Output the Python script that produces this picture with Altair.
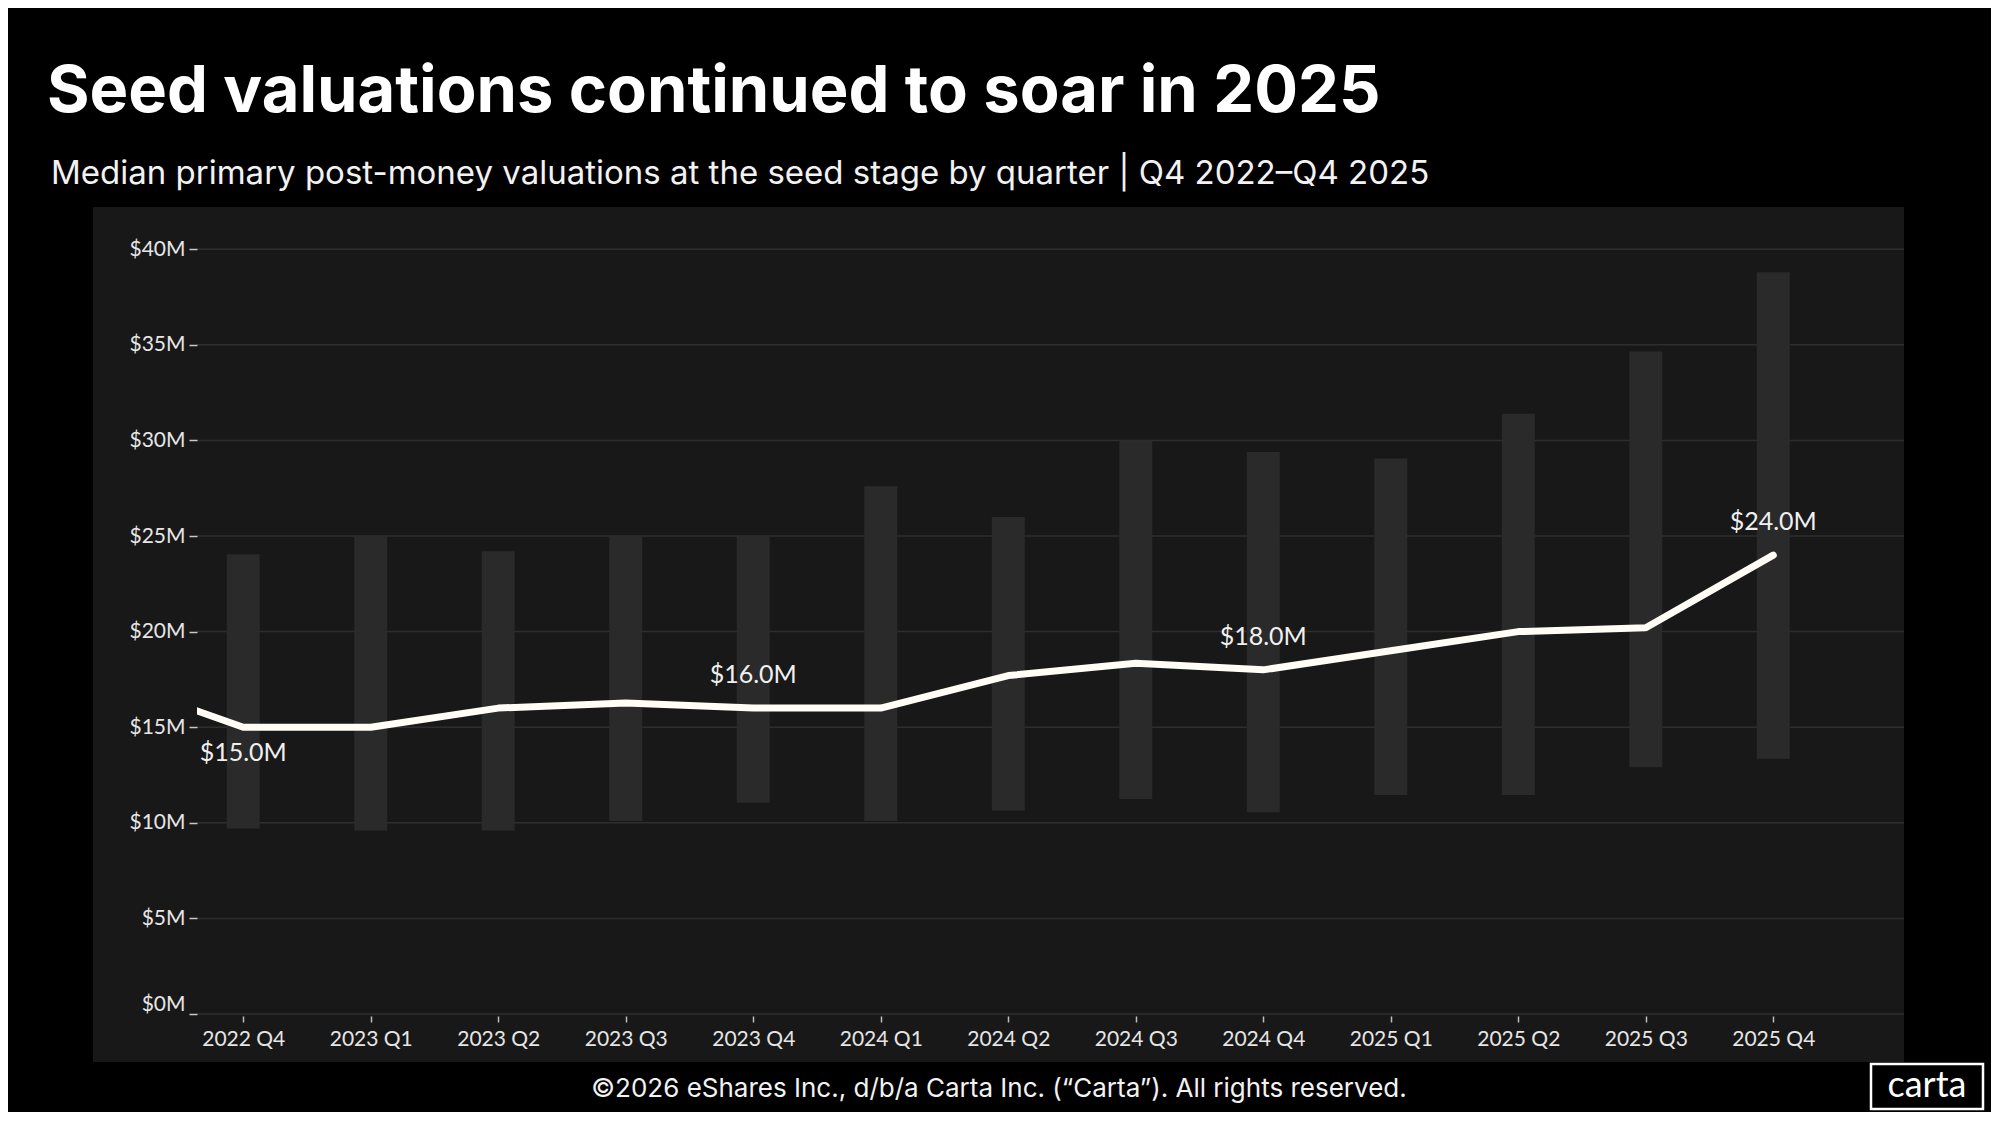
import altair as alt
import pandas as pd

# ---------------- data ----------------
quarters = ["2022 Q4", "2023 Q1", "2023 Q2", "2023 Q3", "2023 Q4", "2024 Q1", "2024 Q2",
            "2024 Q3", "2024 Q4", "2025 Q1", "2025 Q2", "2025 Q3", "2025 Q4"]
median = [15.0, 15.0, 16.0, 16.27, 16.0, 16.0, 17.7, 18.35, 18.0, 19.0, 20.0, 20.2, 24.0]
low = [9.7, 9.6, 9.6, 10.1, 11.05, 10.1, 10.65, 11.25, 10.55, 11.45, 11.45, 12.9, 13.35]
high = [24.05, 25.0, 24.2, 25.0, 25.0, 27.6, 26.0, 30.0, 29.4, 29.05, 31.4, 34.65, 38.8]

# the line enters the plot from the quarter before the first one shown
prev_quarter = "2022 Q3"
prev_median = 17.35

labeled_above = ["2023 Q4", "2024 Q4", "2025 Q4"]
labeled_below = ["2022 Q4"]

y_ticks = [0, 5, 10, 15, 20, 25, 30, 35, 40]

title_text = "Seed valuations continued to soar in 2025"
subtitle_text = "Median primary post-money valuations at the seed stage by quarter | Q4 2022\u2013Q4 2025"
footer_text = "\u00a92026 eShares Inc., d/b/a Carta Inc. (\u201cCarta\u201d). All rights reserved."
logo_text = "carta"

# ---------------- tables ----------------
df = pd.DataFrame({
    "i": list(range(len(quarters))),
    "quarter": quarters,
    "median": median,
    "low": low,
    "high": high,
})
df["label"] = df["median"].map(lambda v: f"${v:.1f}M")

line_df = pd.concat([
    pd.DataFrame({"i": [-1], "quarter": [prev_quarter], "median": [prev_median]}),
    df[["i", "quarter", "median"]],
], ignore_index=True)

grid_df = pd.DataFrame({"v": y_ticks})
one = pd.DataFrame({"a": [0]})

# ---------------- scales / axes ----------------
W, H = 1707, 803
label_js = "[" + ",".join("'" + q + "'" for q in quarters) + "][datum.value]"

xscale = alt.Scale(domain=[-0.3236, 12.986], nice=False, zero=False)
yscale = alt.Scale(domain=[0, 42], nice=False, zero=True)

xaxis = alt.Axis(values=list(range(len(quarters))), labelExpr=label_js, grid=False, domain=False,
                 tickSize=6, tickColor="#bdbdbd", tickWidth=1.5, offset=2, labelPadding=6,
                 labelFont="Lato", labelFontSize=21, labelColor="#e6e6e6", labelFlush=False,
                 labelOverlap=False, title=None, zindex=1)
yaxis = alt.Axis(values=y_ticks, labelExpr="'$' + datum.value + 'M'", grid=False, domain=False,
                 tickSize=8, tickColor="#c8c8c8", tickWidth=1.5, labelPadding=4,
                 labelFont="Lato", labelFontSize=21, labelColor="#e6e6e6", labelFlush=True,
                 labelOverlap=False, title=None, zindex=1)

X = lambda f: alt.X(f, type="quantitative", scale=xscale, axis=xaxis)
Y = lambda f: alt.Y(f, type="quantitative", scale=yscale, axis=yaxis)

# ---------------- layers ----------------
panel = alt.Chart(one).mark_rect(fill="#181818").encode(
    x=alt.value(-104), x2=alt.value(W), y=alt.value(-4), y2=alt.value(851))

grid = alt.Chart(grid_df).mark_rule(color="#2e2e2e", strokeWidth=1.5).encode(y=Y("v"))

bars = alt.Chart(df).mark_bar(color="#2a2a2a", size=33).encode(
    x=X("i"), y=Y("low"), y2="high")

line = alt.Chart(line_df).mark_line(color="#fffdf6", strokeWidth=7, strokeCap="round",
                                    strokeJoin="round", clip=True).encode(
    x=X("i"), y=Y("median"), order="i:Q")

lab_above = alt.Chart(df).transform_filter(
    alt.FieldOneOfPredicate(field="quarter", oneOf=labeled_above)
).mark_text(font="Lato", fontSize=25, color="#f0f0f0", dy=-33, baseline="middle").encode(
    x=X("i"), y=Y("median"), text="label:N")

lab_below = alt.Chart(df).transform_filter(
    alt.FieldOneOfPredicate(field="quarter", oneOf=labeled_below)
).mark_text(font="Lato", fontSize=25, color="#f0f0f0", dy=26, baseline="middle").encode(
    x=X("i"), y=Y("median"), text="label:N")

title = alt.Chart(one).mark_text(text=title_text, align="left", baseline="alphabetic",
                                 font="Inter", fontSize=65, fontWeight=700, color="#ffffff").encode(
    x=alt.value(-150), y=alt.value(-99))

subtitle = alt.Chart(one).mark_text(text=subtitle_text, align="left", baseline="alphabetic",
                                    font="Inter", fontSize=33, fontWeight=400, color="#f2f2f2").encode(
    x=alt.value(-146), y=alt.value(-27))

footer = alt.Chart(one).mark_text(text=footer_text, align="center", baseline="alphabetic",
                                  font="Inter", fontSize=26, color="#f2f2f2").encode(
    x=alt.value(802), y=alt.value(886))

logo_box = alt.Chart(one).mark_rect(fill="#000000", stroke="#ffffff", strokeWidth=2.5).encode(
    x=alt.value(1674), x2=alt.value(1786), y=alt.value(853), y2=alt.value(898))

logo = alt.Chart(one).mark_text(text=logo_text, align="center", baseline="alphabetic",
                                font="Lato", fontSize=36, color="#ffffff").encode(
    x=alt.value(1730), y=alt.value(886))

chart = alt.layer(panel, grid, bars, line, lab_above, lab_below, title, subtitle, footer,
                  logo_box, logo).properties(
    width=W, height=H,
    autosize=alt.AutoSizeParams(type="none"),
    padding={"left": 189, "top": 203, "right": 87, "bottom": 98},
    background="#000000",
).configure_view(stroke="transparent")

chart.save("out.html", embed_options={"renderer": "svg", "actions": False})
